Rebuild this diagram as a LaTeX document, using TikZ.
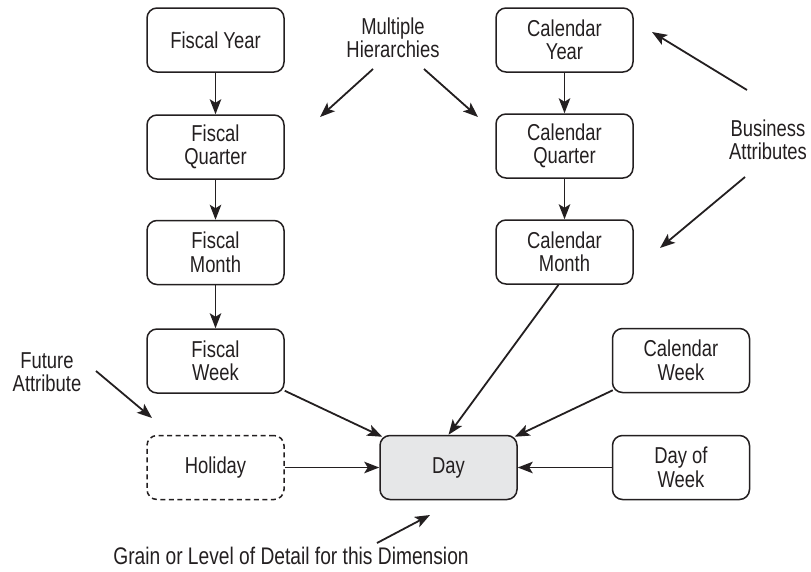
\documentclass[tikz,border=0pt]{standalone}
\usepackage{fontspec}
\setmainfont{Liberation Sans}[FakeStretch=0.8]
\usetikzlibrary{arrows.meta,calc}
\definecolor{ink}{HTML}{231F20}
\definecolor{dayfill}{HTML}{E6E7E8}
\begin{document}
\begin{tikzpicture}[x=1pt,y=-1pt,
  every node/.style={text=ink,font=\fontsize{23}{23.5}\selectfont},
  attr/.style={draw=ink,line width=1.5pt,rounded corners=10pt,minimum width=137pt,
    minimum height=64pt,align=center,inner sep=0pt},
  future/.style={attr,dashed,dash pattern=on 5pt off 3.5pt},
  grain/.style={attr,fill=dayfill},
  note/.style={align=center,inner sep=0pt},
  link/.style={draw=ink,line width=1.8pt,-{Stealth[length=15pt,width=11.5pt,inset=3.5pt]}}]
  \useasboundingbox (0,0) rectangle (811,571);

  % fiscal hierarchy
  \node[attr] (fy) at (215.5,40) {Fiscal Year};
  \node[attr] (fq) at (215.5,147) {Fiscal\\Quarter};
  \node[attr] (fm) at (215.5,252.5) {Fiscal\\Month};
  \node[attr] (fw) at (215.5,361) {Fiscal\\Week};
  \node[future] (hol) at (215.5,467.5) {Holiday};

  % calendar hierarchy
  \node[attr] (cy) at (564.5,40) {Calendar\\Year};
  \node[attr] (cq) at (564.5,146) {Calendar\\Quarter};
  \node[attr] (cm) at (564.5,252) {Calendar\\Month};
  \node[attr] (cw) at (681,360.5) {Calendar\\Week};
  \node[attr] (dow) at (681,467.5) {Day of\\Week};

  % grain
  \node[grain] (day) at (448.5,467.5) {Day};

  % notes
  \node[note] (multi) at (393,38) {Multiple\\Hierarchies};
  \node[note] (biz) at (768,140) {Business\\Attributes};
  \node[note] (fut) at (47,372) {Future\\Attribute};
  \node[note,anchor=base,font=\fontsize{24}{25}\selectfont] (grn) at (291,564)
    {Grain or Level of Detail for this Dimension};

  % hierarchy links
  \draw[link] (fy) -- (fq);
  \draw[link] (fq) -- (fm);
  \draw[link] (fm) -- (fw);
  \draw[link] (cy) -- (cq);
  \draw[link] (cq) -- (cm);

  % links into the grain
  \draw[link] ($(fw.south east)+(0,-3)$) -- ($(day.north west)+(3,2)$);
  \draw[link] ($(cm.south)+(-6,0)$) -- (day.north);
  \draw[link] ($(cw.south west)+(1,-3)$) -- ($(day.north east)+(-3,2)$);
  \draw[link] (hol) -- (day);
  \draw[link] (dow) -- (day);

  % note pointers
  \coordinate (m1) at (373,69);  \coordinate (m1e) at (320,117);
  \coordinate (m2) at (424,69);  \coordinate (m2e) at (478,117);
  \coordinate (b1) at (747,90);  \coordinate (b1e) at (652,32);
  \coordinate (b2) at (745,177); \coordinate (b2e) at (660,248);
  \coordinate (f1) at (96,371);  \coordinate (f1e) at (152,418);
  \coordinate (g1) at (377,543); \coordinate (g1e) at (430,515);
  \draw[link] (m1) -- (m1e);
  \draw[link] (m2) -- (m2e);
  \draw[link] (b1) -- (b1e);
  \draw[link] (b2) -- (b2e);
  \draw[link] (f1) -- (f1e);
  \draw[link] (g1) -- (g1e);
\end{tikzpicture}
\end{document}
